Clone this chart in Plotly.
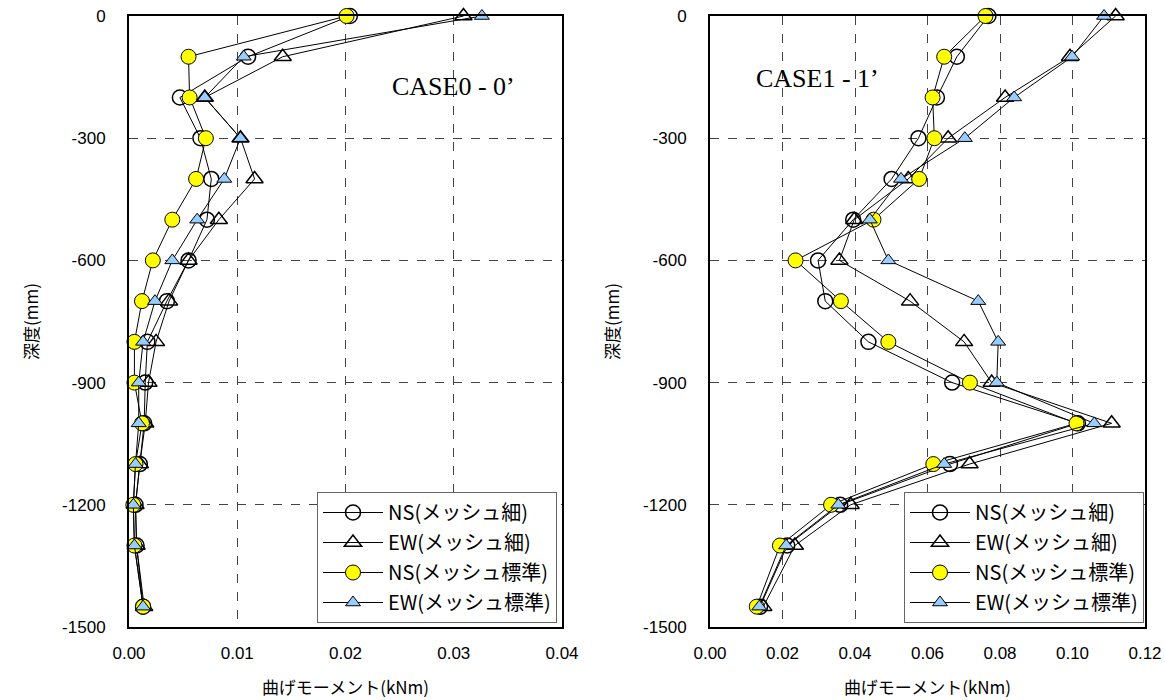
import plotly.graph_objects as go

depth = [0, -100, -200, -300, -400, -500, -600, -700, -800, -900, -1000, -1100, -1200, -1300, -1450]

# CASE0 - 0'
c0_ns_fine = [0.0204, 0.0110, 0.0047, 0.0066, 0.0076, 0.0072, 0.0055, 0.0035, 0.0017, 0.0015, 0.0014, 0.0010, 0.0006, 0.0007, 0.0013]
c0_ew_fine = [0.0309, 0.0142, 0.0070, 0.0103, 0.0116, 0.0083, 0.0055, 0.0037, 0.0025, 0.0018, 0.0015, 0.0010, 0.0006, 0.0007, 0.0014]
c0_ns_std = [0.0201, 0.0055, 0.0056, 0.0071, 0.0062, 0.0040, 0.0022, 0.0012, 0.0005, 0.0005, 0.0012, 0.0006, 0.0004, 0.0005, 0.0013]
c0_ew_std = [0.0326, 0.0106, 0.0070, 0.0103, 0.0088, 0.0063, 0.0040, 0.0024, 0.0013, 0.0009, 0.0009, 0.0006, 0.0004, 0.0005, 0.0013]

# CASE1 - 1'
c1_ns_fine = [0.0768, 0.0681, 0.0626, 0.0575, 0.0501, 0.0395, 0.0298, 0.0318, 0.0437, 0.0668, 0.1015, 0.0662, 0.0359, 0.0213, 0.0138]
c1_ew_fine = [0.1119, 0.0993, 0.0814, 0.0657, 0.0547, 0.0398, 0.0357, 0.0552, 0.0701, 0.0777, 0.1108, 0.0716, 0.0388, 0.0234, 0.0147]
c1_ns_std = [0.0760, 0.0646, 0.0614, 0.0619, 0.0577, 0.0451, 0.0236, 0.0361, 0.0492, 0.0717, 0.1011, 0.0616, 0.0334, 0.0193, 0.0129]
c1_ew_std = [0.1087, 0.0999, 0.0839, 0.0703, 0.0527, 0.0441, 0.0492, 0.0740, 0.0795, 0.0791, 0.1060, 0.0646, 0.0354, 0.0210, 0.0136]

names = ["NS(メッシュ細)", "EW(メッシュ細)", "NS(メッシュ標準)", "EW(メッシュ標準)"]
case_labels = ["CASE0 - 0’", "CASE1 - 1’"]
x_ticks_left = [0.00, 0.01, 0.02, 0.03, 0.04]
x_ticks_right = [0.00, 0.02, 0.04, 0.06, 0.08, 0.10, 0.12]
y_ticks = [0, -300, -600, -900, -1200, -1500]
y_tick_labels = ["0", "-300", "-600", "-900", "-1200", "-1500"]

styles = [
    dict(symbol="circle-open", size=15, color="black", line=dict(width=1.5, color="black")),
    dict(symbol="triangle-up-open", size=15, color="black", line=dict(width=1.5, color="black")),
    dict(symbol="circle", size=15, color="#FFFF00", line=dict(width=1, color="black")),
    dict(symbol="triangle-up", size=13, color="#99CCFF", line=dict(width=1, color="black")),
]

fig = go.Figure()
sets = [
    ([c0_ns_fine, c0_ew_fine, c0_ns_std, c0_ew_std], "x", "y", "legend"),
    ([c1_ns_fine, c1_ew_fine, c1_ns_std, c1_ew_std], "x2", "y2", "legend2"),
]
for si, (series, xa, ya, lg) in enumerate(sets):
    for i, vals in enumerate(series):
        fig.add_trace(go.Scatter(
            x=vals, y=depth, mode="lines+markers", name=names[i],
            xaxis=xa, yaxis=ya, legend=lg, legendgroup=f"{si}-{i}",
            line=dict(color="black", width=1),
            marker=styles[i], cliponaxis=False,
        ))

tickfont = dict(family="Liberation Sans, Arial", size=17, color="black")
yfont = dict(family="Liberation Sans, Arial", size=17, color="black")
titlefont = dict(family="Noto Sans CJK JP", size=17, color="black")
common_x = dict(showline=True, linewidth=2, linecolor="black", mirror=True,
                showgrid=True, gridcolor="#444", griddash="dash", gridwidth=1,
                zeroline=False, ticks="", tickfont=tickfont, tickformat=".2f",
                automargin=False, ticklabelstandoff=10,
                title=dict(text="曲げモーメント(kNm)", font=titlefont, standoff=20))
common_y = dict(showline=True, linewidth=2, linecolor="black", mirror=True,
                showgrid=True, gridcolor="#444", griddash="dash", gridwidth=1,
                zeroline=False, ticks="", tickfont=yfont, range=[-1500, 0],
                tickvals=y_ticks, ticktext=y_tick_labels, ticklabelstandoff=18, automargin=False,
                title=dict(text="深度(mm)", font=titlefont, standoff=19))

ydom = [1 - 627 / 700, 1 - 16 / 700]
legfont = dict(family="Noto Sans CJK JP", size=20, color="black")
fig.update_layout(
    width=1165, height=700, margin=dict(l=0, r=0, t=0, b=0, autoexpand=False),
    paper_bgcolor="white", plot_bgcolor="white",
    xaxis=dict(domain=[129 / 1165, 562 / 1165], range=[0, 0.04], tickvals=x_ticks_left, anchor="y", **common_x),
    yaxis=dict(domain=ydom, anchor="x", **common_y),
    xaxis2=dict(domain=[710 / 1165, 1145 / 1165], range=[0, 0.12], tickvals=x_ticks_right, anchor="y2", **common_x),
    yaxis2=dict(domain=ydom, anchor="x2", **common_y),
    legend=dict(x=317 / 1165, y=1 - 492 / 700, xanchor="left", yanchor="top",
                bgcolor="white", bordercolor="#666", borderwidth=1,
                font=legfont, tracegroupgap=1, itemwidth=60),
    legend2=dict(x=904 / 1165, y=1 - 492 / 700, xanchor="left", yanchor="top",
                 bgcolor="white", bordercolor="#666", borderwidth=1,
                 font=legfont, tracegroupgap=1, itemwidth=60),
    annotations=[
        dict(text=case_labels[0], x=453 / 1165, y=1 - 86 / 700, xref="paper", yref="paper",
             xanchor="center", yanchor="middle",
             showarrow=False, font=dict(family="Liberation Serif", size=26, color="black")),
        dict(text=case_labels[1], x=817 / 1165, y=1 - 78 / 700, xref="paper", yref="paper",
             xanchor="center", yanchor="middle",
             showarrow=False, font=dict(family="Liberation Serif", size=26, color="black")),
    ],
)

fig.write_html("out.html")
